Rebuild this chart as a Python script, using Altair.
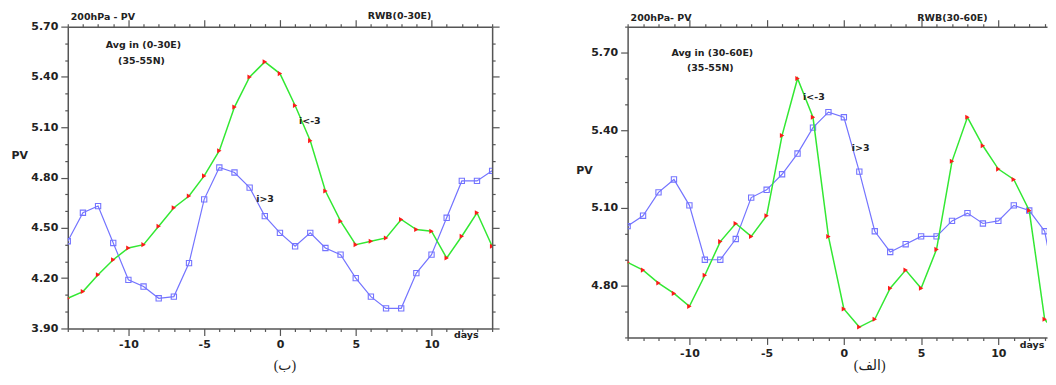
import altair as alt
import pandas as pd

days = list(range(-14, 15))

# Panel (ب) : RWB(0-30E)
left_green = [4.08, 4.12, 4.22, 4.31, 4.38, 4.40, 4.51, 4.62, 4.69, 4.81, 4.96, 5.22, 5.40, 5.49,
              5.42, 5.23, 5.02, 4.72, 4.54, 4.40, 4.42, 4.44, 4.55, 4.49, 4.48, 4.32, 4.45, 4.59, 4.39]
left_blue = [4.42, 4.59, 4.63, 4.41, 4.19, 4.15, 4.08, 4.09, 4.29, 4.67, 4.86, 4.83, 4.74, 4.57,
             4.47, 4.39, 4.47, 4.38, 4.34, 4.20, 4.09, 4.02, 4.02, 4.23, 4.34, 4.56, 4.78, 4.78, 4.84]

# Panel (الف) : RWB(30-60E)
right_green = [4.89, 4.86, 4.81, 4.77, 4.72, 4.84, 4.97, 5.04, 4.99, 5.07, 5.38, 5.60, 5.45, 4.99,
               4.71, 4.64, 4.67, 4.79, 4.86, 4.79, 4.94, 5.28, 5.45, 5.34, 5.25, 5.21, 5.09, 4.67, 4.60]
right_blue = [5.03, 5.07, 5.16, 5.21, 5.11, 4.90, 4.90, 4.98, 5.14, 5.17, 5.23, 5.31, 5.41, 5.47,
              5.45, 5.24, 5.01, 4.93, 4.96, 4.99, 4.99, 5.05, 5.08, 5.04, 5.05, 5.11, 5.09, 5.01, 4.70]

GREEN = "#33e833"
BLUE = "#7474ff"
RED = "#ff1a1a"
AX = "#555555"
TXT = "#222222"
FONT = "DejaVu Sans"

one = pd.DataFrame({"a": [0]})


def xaxis(orient, labels, vals):
    kw = dict(orient=orient, values=vals, title=None, grid=False, domainColor=AX, domainWidth=1.5,
              tickColor=AX, tickWidth=1.2,
              tickSize={"condition": {"test": "datum.value % 5 == 0", "value": 7}, "value": 3},
              labelOverlap=False, labelFlush=False)
    if labels:
        kw.update(labelExpr="datum.value % 5 == 0 ? '' + datum.value : ''", labelFont=FONT,
                  labelFontSize=11, labelFontWeight="bold", labelColor=TXT, labelPadding=3)
    else:
        kw.update(labels=False)
    return alt.Axis(**kw)


def yaxis(orient, labels, vals, title_x=0, title_y=0):
    kw = dict(orient=orient, values=vals, grid=False, domainColor=AX, domainWidth=1.5,
              tickColor=AX, tickWidth=1.2,
              tickSize={"condition": {"test": "round(datum.value*10) % 3 == 0", "value": 7}, "value": 3},
              labelOverlap=False, labelFlush=False)
    if labels:
        kw.update(labelExpr="round(datum.value*10) % 3 == 0 ? format(datum.value, '.2f') : ''",
                  labelFont=FONT, labelFontSize=11, labelFontWeight="bold", labelColor=TXT,
                  labelPadding=3, title="PV", titleAngle=0, titleX=title_x, titleY=title_y,
                  titleAlign="left", titleBaseline="middle", titleFont=FONT, titleFontSize=11,
                  titleFontWeight="bold", titleColor=TXT)
    else:
        kw.update(labels=False, title=None)
    return alt.Axis(**kw)


def txt(s, px, py, size=9.5, align="left", font=FONT, weight="bold"):
    return alt.Chart(one).mark_text(text=s, align=align, baseline="middle", fontSize=size, font=font,
                                    fontWeight=weight, color=TXT).encode(x=alt.value(px), y=alt.value(py))


def panel(green, blue, ydom, yvals, xmax, w, h, right_axis, title_x, title_y, texts):
    df = pd.DataFrame({"day": days, "green": green, "blue": blue})
    xvals = [d for d in days if d <= xmax]
    xs = alt.Scale(domain=[-14, xmax], nice=False, zero=False)
    ys = alt.Scale(domain=ydom, nice=False, zero=False)
    g = alt.Chart(df).mark_line(
        color=GREEN, strokeWidth=1.5, clip=True,
        point=alt.OverlayMarkDef(shape="triangle-right", filled=True, fill=RED, color=RED, size=26, clip=True)
    ).encode(
        x=alt.X("day:Q", scale=xs, axis=xaxis("bottom", True, xvals)),
        y=alt.Y("green:Q", scale=ys, axis=yaxis("left", True, yvals, title_x, title_y)),
    )
    b = alt.Chart(df).mark_line(
        color=BLUE, strokeWidth=1.2, clip=True,
        point=alt.OverlayMarkDef(shape="square", filled=False, color=BLUE, size=28, strokeWidth=1.1, clip=True)
    ).encode(
        x=alt.X("day:Q", scale=xs, axis=xaxis("top", False, xvals)),
        y=alt.Y("blue:Q", scale=ys, axis=yaxis("right", False, yvals) if right_axis else None),
    )
    layers = [b, g] + [txt(*t[:3], **(t[3] if len(t) > 3 else {})) for t in texts]
    return alt.layer(*layers).resolve_axis(x="independent", y="independent").properties(width=w, height=h)


left_vals = [round(3.9 + 0.1 * i, 2) for i in range(19)]
right_vals = [round(4.6 + 0.1 * i, 2) for i in range(13)]

CAP = {"align": "center", "size": 14, "font": "Liberation Serif, DejaVu Sans", "weight": "normal"}

left_texts = [
    ("200hPa - PV", 3, -10),
    ("RWB(0-30E)", 333, -11, {"align": "center"}),
    ("Avg in (0-30E)", 76, 18, {"align": "center"}),
    ("(35-55N)", 74, 35, {"align": "center"}),
    ("i<-3", 243, 95, {"align": "center"}),
    ("i>3", 198, 173, {"align": "center"}),
    ("days", 400, 310, {"align": "center"}),
    ("(ب)", 218, 341, CAP),
]
right_texts = [
    ("200hPa- PV", 3, -9),
    ("RWB(30-60E)", 326, -9, {"align": "center"}),
    ("Avg in (30-60E)", 85, 26, {"align": "center"}),
    ("(35-55N)", 83, 42, {"align": "center"}),
    ("i<-3", 187, 71, {"align": "center"}),
    ("i>3", 234, 122, {"align": "center"}),
    ("days", 406, 320, {"align": "center"}),
    ("(الف)", 243, 341, CAP),
]

left = panel(left_green, left_blue, [3.9, 5.7], left_vals, 14, 426, 303, True, -57, 129, left_texts)
right = panel(right_green, right_blue, [4.6, 5.8], right_vals, 13.15, 421, 312, False, -52, 144, right_texts)

chart = alt.hconcat(left, right, spacing=74).properties(
    padding={"left": 2, "top": 1, "right": 0, "bottom": 0},
    background="white",
).configure_view(stroke="transparent")

chart.save("out.html", embed_options={"renderer": "svg", "actions": False})
